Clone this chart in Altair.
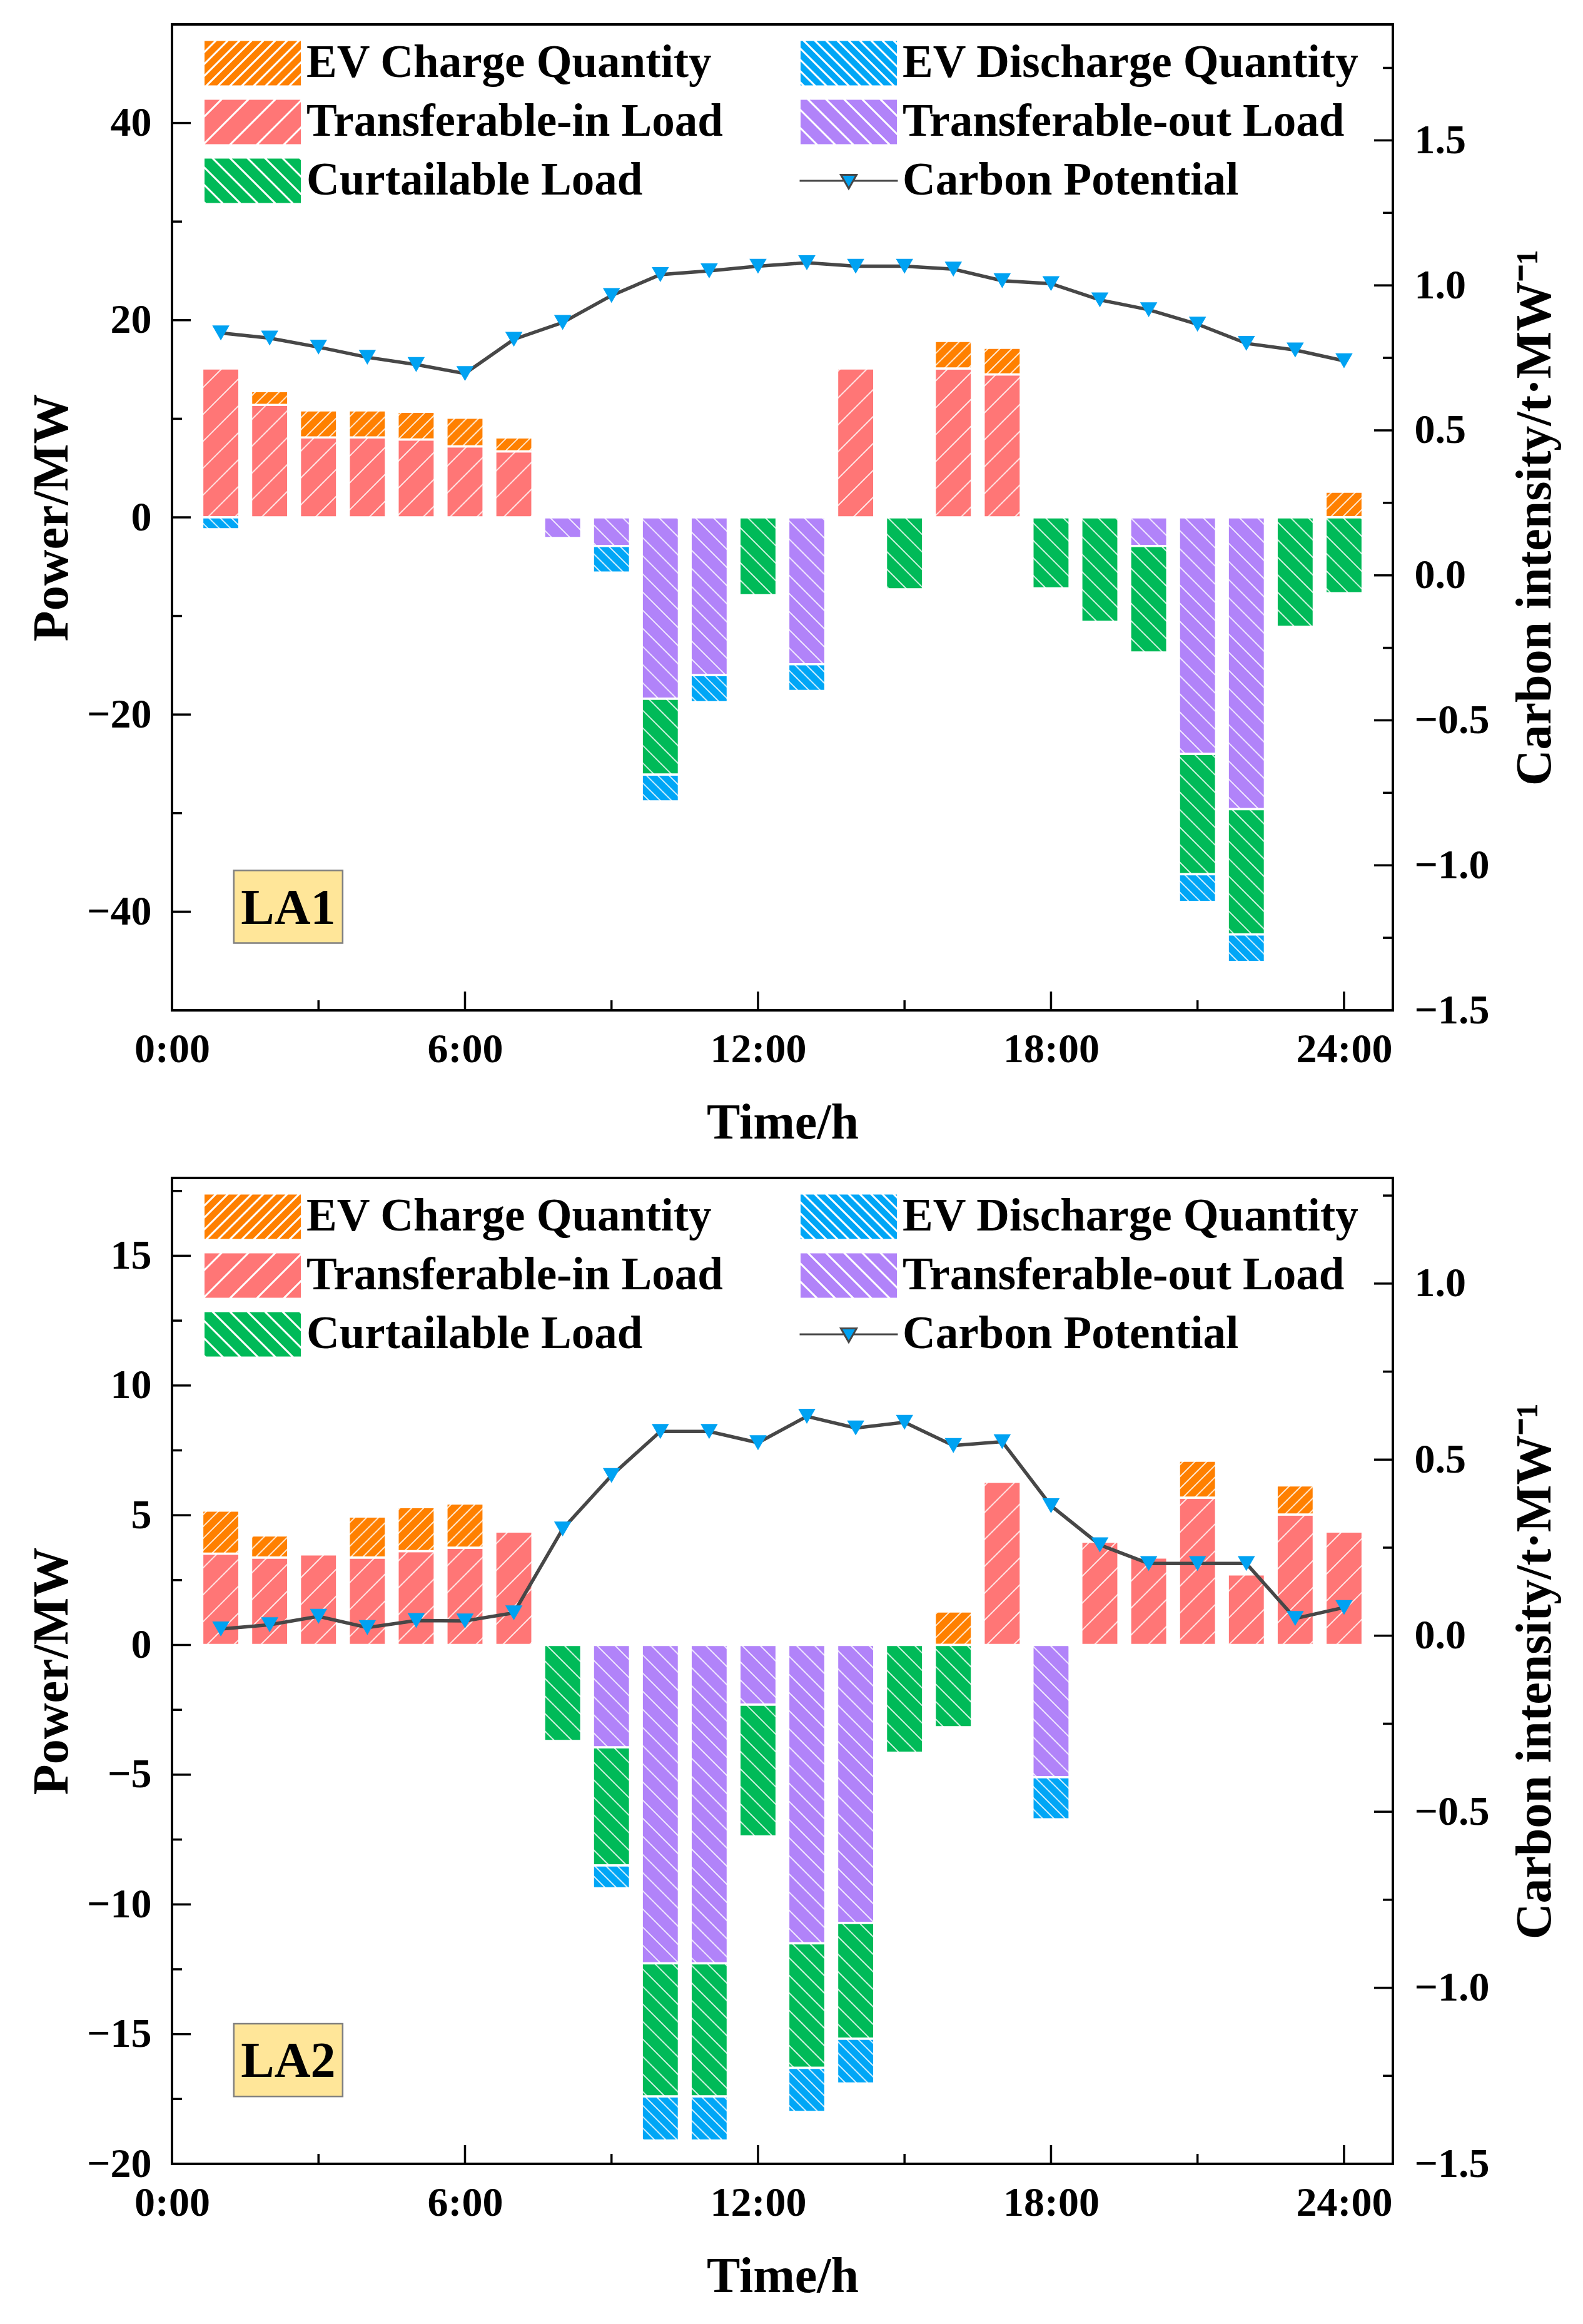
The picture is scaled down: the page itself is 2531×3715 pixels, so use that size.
import altair as alt
import numpy as np
import pandas as pd

HOURS = list(range(1, 25))

# legend fills column by column: first column, then second column
SERIES = [
    "EV Charge Quantity",
    "Transferable-in Load",
    "Curtailable Load",
    "EV Discharge Quantity",
    "Transferable-out Load",
    "Carbon Potential",
]
FILLS = ["#FF8000", "#FF7676", "#00BA58", "#00A6F6", "#B183F9", "#00A2F2"]
EDGES = ["white", "white", "white", "white", "white", "#474747"]

# ---- LA1 (MW) ----
LA1_TRANS_IN = [15.1, 11.4, 8.1, 8.1, 7.9, 7.2, 6.7, 0, 0, 0, 0, 0,
                0, 15.1, 0, 15.1, 14.5, 0, 0, 0, 0, 0, 0, 0]
LA1_EV_CHARGE = [0, 1.4, 2.75, 2.75, 2.8, 2.9, 1.4, 0, 0, 0, 0, 0,
                 0, 0, 0, 2.8, 2.7, 0, 0, 0, 0, 0, 0, 2.6]
LA1_TRANS_OUT = [0, 0, 0, 0, 0, 0, 0, -2.1, -2.9, -18.4, -16.0, 0,
                 -14.9, 0, 0, 0, 0, 0, 0, -2.9, -24.0, -29.6, 0, 0]
LA1_CURTAIL = [0, 0, 0, 0, 0, 0, 0, 0, 0, -7.7, 0, -7.9,
               0, 0, -7.3, 0, 0, -7.2, -10.6, -10.8, -12.2, -12.7, -11.1, -7.7]
LA1_EV_DISCHARGE = [-1.2, 0, 0, 0, 0, 0, 0, 0, -2.7, -2.7, -2.75, 0,
                    -2.7, 0, 0, 0, 0, 0, 0, 0, -2.8, -2.8, 0, 0]
LA1_CARBON = [0.836, 0.818, 0.787, 0.752, 0.727, 0.696, 0.814, 0.872, 0.965, 1.037, 1.050, 1.066,
              1.078, 1.066, 1.066, 1.056, 1.016, 1.006, 0.950, 0.916, 0.866, 0.800, 0.777, 0.740]

# ---- LA2 (MW) ----
LA2_TRANS_IN = [3.52, 3.37, 3.49, 3.37, 3.62, 3.75, 4.37, 0, 0, 0, 0, 0,
                0, 0, 0, 0, 6.29, 0, 3.98, 3.37, 5.68, 2.72, 5.03, 4.37]
LA2_EV_CHARGE = [1.66, 0.85, 0, 1.58, 1.69, 1.70, 0, 0, 0, 0, 0, 0,
                 0, 0, 0, 1.29, 0, 0, 0, 0, 1.42, 0, 1.12, 0]
LA2_TRANS_OUT = [0, 0, 0, 0, 0, 0, 0, 0, -3.95, -12.27, -12.27, -2.3,
                 -11.5, -10.72, 0, 0, 0, -5.1, 0, 0, 0, 0, 0, 0]
LA2_CURTAIL = [0, 0, 0, 0, 0, 0, 0, -3.7, -4.55, -5.13, -5.13, -5.08,
               -4.8, -4.46, -4.15, -3.17, 0, 0, 0, 0, 0, 0, 0, 0]
LA2_EV_DISCHARGE = [0, 0, 0, 0, 0, 0, 0, 0, -0.88, -1.7, -1.7, 0,
                    -1.7, -1.72, 0, 0, 0, -1.62, 0, 0, 0, 0, 0, 0]
LA2_CARBON = [0.019, 0.031, 0.055, 0.023, 0.043, 0.042, 0.065, 0.303, 0.455, 0.580, 0.580, 0.548,
              0.623, 0.590, 0.606, 0.540, 0.551, 0.369, 0.258, 0.205, 0.205, 0.205, 0.049, 0.080]

X_TICKS = [0, 6, 12, 18, 24]
X_MINOR = [3, 9, 15, 21]
LA1_Y_TICKS = [-40, -20, 0, 20, 40]
LA1_Y_MINOR = [-30, -10, 10, 30]
LA1_C_TICKS = [-1.5, -1.0, -0.5, 0.0, 0.5, 1.0, 1.5]
LA1_C_MINOR = [-1.25, -0.75, -0.25, 0.25, 0.75, 1.25, 1.75]
LA2_Y_TICKS = [-20, -15, -10, -5, 0, 5, 10, 15]
LA2_Y_MINOR = [-17.5, -12.5, -7.5, -2.5, 2.5, 7.5, 12.5, 17.5]
LA2_C_TICKS = [-1.5, -1.0, -0.5, 0.0, 0.5, 1.0]
LA2_C_MINOR = [-1.25, -0.75, -0.25, 0.25, 0.75, 1.25]

# ---- layout / style ----
FONT = "Liberation Serif"
W, H = 1952, 1576
X_DOMAIN = [0, 25]
PXX = W / (X_DOMAIN[1] - X_DOMAIN[0])
BAR_W = 0.76
TICK_MAJOR, TICK_MINOR = 30, 16
SWATCH = 157  # legend swatch width in px

# hatch direction (+1 "/", -1 "\") and horizontal spacing in px
HATCH = {
    "EV Charge Quantity": (1, 19),
    "Transferable-in Load": (1, 43),
    "EV Discharge Quantity": (-1, 18),
    "Transferable-out Load": (-1, 29),
    "Curtailable Load": (-1, 28),
}


def clip_lines(xl, xr, yb, yt, d, s, min_len=0.0):
    # diagonal lines y = d*(x-k), k on a global grid, clipped to a box (y up)
    if d > 0:
        kmin, kmax = xl - yt, xr - yb
    else:
        kmin, kmax = xl + yb, xr + yt
    segs = []
    k = np.ceil(kmin / s) * s
    while k < kmax:
        xa = max(xl, min(k + d * yb, k + d * yt))
        xb = min(xr, max(k + d * yb, k + d * yt))
        if xb - xa > min_len:
            segs.append((xa, d * (xa - k), xb, d * (xb - k)))
        k += s
    return segs


def swatch_path(series):
    d, gap = HATCH[series]
    unit = SWATCH / 2
    hh = 0.47
    parts = [f"M-1,{-hh}H1V{hh}H-1Z"]
    for xa, ya, xb, yb in clip_lines(-1, 1, -hh, hh, d, gap / unit, 0.02):
        parts.append(f"M{xa:.3f},{-ya:.3f}L{xb:.3f},{-yb:.3f}")
    return "".join(parts)


CARBON_SYMBOL = "M-1,0H-0.1M0.1,0H1M-0.16,-0.12H0.16L0,0.16Z"
LEGEND_SHAPES = [CARBON_SYMBOL if s == "Carbon Potential" else swatch_path(s)
                 for s in SERIES]
TAG_PATH = "M-1,-0.667H1V0.667H-1Z"

fill_scale = alt.Scale(domain=SERIES, range=FILLS)
stroke_scale = alt.Scale(domain=SERIES, range=EDGES)
shape_scale = alt.Scale(domain=SERIES, range=LEGEND_SHAPES)
x_scale = alt.Scale(domain=X_DOMAIN, nice=False, zero=False)

LEGEND = alt.Legend(
    title=None, orient="none", legendX=49, legendY=25, columns=2,
    columnPadding=121, rowPadding=20, padding=0, symbolSize=SWATCH ** 2,
    clipHeight=74, symbolStrokeWidth=3, symbolOffset=0,
    labelFont=FONT, labelFontSize=73, labelFontWeight="bold",
    labelColor="black", labelOffset=6, labelLimit=0,
)

X_AXIS = alt.Axis(
    values=X_TICKS, labelExpr="datum.value + ':00'", title="Time/h",
    ticks=False, domain=False, grid=False, labelFlush=False,
    labelOverlap=False, labelPadding=30, titlePadding=46,
)


def stack_bars(trans_in, ev_charge, trans_out, curtail, ev_dis):
    rows = []
    groups = [
        [("Transferable-in Load", trans_in), ("EV Charge Quantity", ev_charge)],
        [("Transferable-out Load", trans_out), ("Curtailable Load", curtail),
         ("EV Discharge Quantity", ev_dis)],
    ]
    for i, h in enumerate(HOURS):
        for group in groups:
            base = 0.0
            for series, vals in group:
                v = vals[i]
                if v == 0:
                    continue
                rows.append({"series": series, "hour": h,
                             "x0": h - BAR_W / 2, "x1": h + BAR_W / 2,
                             "y0": base, "y1": base + v})
                base += v
    return pd.DataFrame(rows)


def hatch_segments(bars, y_min, pxy):
    rows = []
    for b in bars.itertuples():
        d, gap = HATCH[b.series]
        lo, hi = sorted((b.y0, b.y1))
        segs = clip_lines(b.x0 * PXX, b.x1 * PXX, (lo - y_min) * pxy,
                          (hi - y_min) * pxy, d, gap, 2.0)
        for xa, ya, xb, yb in segs:
            rows.append({"hx": xa / PXX, "hx2": xb / PXX,
                         "hy": ya / pxy + y_min, "hy2": yb / pxy + y_min})
    return pd.DataFrame(rows)


def build_panel(tag, tag_pos, series_vals, carbon, y_dom, y_ticks, y_minor,
                c_dom, c_ticks, c_minor):
    bars = stack_bars(*series_vals)
    pxy = H / (y_dom[1] - y_dom[0])
    hatch = hatch_segments(bars, y_dom[0], pxy)

    y_scale = alt.Scale(domain=y_dom, nice=False, zero=False)
    c_scale = alt.Scale(domain=c_dom, nice=False, zero=False)
    y_axis = alt.Axis(values=y_ticks, title="Power/MW", ticks=False,
                      domain=False, grid=False, labelPadding=33,
                      titlePadding=14, labelFlush=False, labelOverlap=False)
    c_axis = alt.Axis(orient="right", values=c_ticks, format=".1f",
                      title="Carbon intensity/t\u00b7MW\u207b\u00b9", ticks=False,
                      domain=False, grid=False, labelPadding=34,
                      titlePadding=34, titleAngle=270, titleBaseline="top",
                      labelFlush=False, labelOverlap=False)

    def xq(field):
        return alt.X(field, type="quantitative", scale=x_scale, axis=X_AXIS)

    def yq(field):
        return alt.Y(field, type="quantitative", scale=y_scale, axis=y_axis)

    def cq(field):
        return alt.Y(field, type="quantitative", scale=c_scale, axis=c_axis)

    fill_enc = alt.Fill("series:N", scale=fill_scale, legend=None)
    stroke_enc = alt.Stroke("series:N", scale=stroke_scale, legend=None)

    legend_layer = alt.Chart(pd.DataFrame({"series": SERIES})).transform_filter(
        "false"
    ).mark_point(filled=True, opacity=1, strokeWidth=3).encode(
        fill=alt.Fill("series:N", scale=fill_scale, legend=LEGEND),
        stroke=alt.Stroke("series:N", scale=stroke_scale, legend=LEGEND),
        shape=alt.Shape("series:N", scale=shape_scale, legend=LEGEND),
    )

    bar_layer = alt.Chart(bars).mark_rect(strokeWidth=3.5).encode(
        x=xq("x0"), x2="x1", y=yq("y0"), y2="y1",
        fill=fill_enc, stroke=stroke_enc,
    )

    hatch_layer = alt.Chart(hatch).mark_rule(
        color="white", strokeWidth=2, opacity=0.8
    ).encode(x=xq("hx"), x2="hx2", y=yq("hy"), y2="hy2")

    rule = dict(color="black", strokeWidth=3.5)
    left_major = alt.Chart(pd.DataFrame({"tv": y_ticks})).mark_rule(**rule).encode(
        y=yq("tv"), x=alt.value(0), x2=alt.value(TICK_MAJOR))
    left_minor = alt.Chart(pd.DataFrame({"tv": y_minor})).mark_rule(**rule).encode(
        y=yq("tv"), x=alt.value(0), x2=alt.value(TICK_MINOR))
    x_major = alt.Chart(pd.DataFrame({"tv": X_TICKS})).mark_rule(**rule).encode(
        x=xq("tv"), y=alt.value(H), y2=alt.value(H - TICK_MAJOR))
    x_minor = alt.Chart(pd.DataFrame({"tv": X_MINOR})).mark_rule(**rule).encode(
        x=xq("tv"), y=alt.value(H), y2=alt.value(H - TICK_MINOR))

    tag_df = pd.DataFrame({"tag": [tag], "tx": [tag_pos[0]], "ty": [tag_pos[1]]})
    tag_box = alt.Chart(tag_df).mark_point(
        shape=TAG_PATH, size=174 ** 2, filled=True, fill="#FFE699",
        stroke="#7F7F7F", strokeWidth=2.5, opacity=1,
    ).encode(x=xq("tx"), y=yq("ty"))
    tag_text = alt.Chart(tag_df).mark_text(
        font=FONT, fontSize=80, fontWeight="bold", color="black",
        baseline="middle", align="center", dy=3,
    ).encode(x=xq("tx"), y=yq("ty"), text="tag:N")

    left = alt.layer(legend_layer, bar_layer, hatch_layer, left_major,
                     left_minor, x_major, x_minor, tag_box, tag_text)

    carbon_df = pd.DataFrame({"hour": HOURS, "ci": carbon,
                              "series": "Carbon Potential"})
    line = alt.Chart(carbon_df).mark_line(strokeWidth=5.5).encode(
        x=xq("hour"), y=cq("ci"), stroke=stroke_enc)
    points = alt.Chart(carbon_df).mark_point(
        shape="triangle-down", filled=True, size=760, opacity=1
    ).encode(x=xq("hour"), y=cq("ci"), fill=fill_enc)
    right_major = alt.Chart(pd.DataFrame({"tv": c_ticks})).mark_rule(**rule).encode(
        y=cq("tv"), x=alt.value(W), x2=alt.value(W - TICK_MAJOR))
    right_minor = alt.Chart(pd.DataFrame({"tv": c_minor})).mark_rule(**rule).encode(
        y=cq("tv"), x=alt.value(W), x2=alt.value(W - TICK_MINOR))
    right = alt.layer(line, points, right_major, right_minor)

    return alt.layer(left, right).resolve_scale(y="independent").properties(
        width=W, height=H
    )


panel1 = build_panel(
    "LA1", (2.38, -39.5),
    (LA1_TRANS_IN, LA1_EV_CHARGE, LA1_TRANS_OUT, LA1_CURTAIL, LA1_EV_DISCHARGE),
    LA1_CARBON, [-50, 50], LA1_Y_TICKS, LA1_Y_MINOR,
    [-1.5, 1.9], LA1_C_TICKS, LA1_C_MINOR,
)
panel2 = build_panel(
    "LA2", (2.38, -16.0),
    (LA2_TRANS_IN, LA2_EV_CHARGE, LA2_TRANS_OUT, LA2_CURTAIL, LA2_EV_DISCHARGE),
    LA2_CARBON, [-20, 18], LA2_Y_TICKS, LA2_Y_MINOR,
    [-1.5, 1.3], LA2_C_TICKS, LA2_C_MINOR,
)

chart = (
    alt.vconcat(panel1, panel2, spacing=44)
    .resolve_scale(fill="independent", stroke="independent", shape="independent")
    .resolve_legend(fill="independent", stroke="independent", shape="independent")
    .properties(padding={"left": 33, "top": 29, "right": 20, "bottom": 20},
                background="white")
    .configure_view(stroke="black", strokeWidth=4)
    .configure_axis(
        labelFont=FONT, labelFontSize=66, labelFontWeight="bold",
        labelColor="black", titleFont=FONT, titleFontSize=80,
        titleFontWeight="bold", titleColor="black",
    )
)

chart.save("out.html", embed_options={"renderer": "svg", "actions": False})
